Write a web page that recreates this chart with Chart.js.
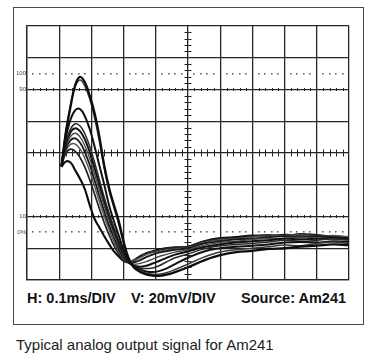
<!DOCTYPE html>
<html>
<head>
<meta charset="utf-8">
<script src="https://cdn.jsdelivr.net/npm/chart.js@4.4.0/dist/chart.umd.min.js"></script>
<style>
  html, body { margin: 0; padding: 0; background: #fff; }
  body { width: 377px; height: 360px; position: relative; overflow: hidden; font-family: "Liberation Sans", Arial, sans-serif; }
  .frame { position: absolute; left: 13px; top: 7px; width: 349px; height: 316px; border: 1px solid #4a4a4a; }
  #scope { position: absolute; left: 0; top: 0; }
  .settings span { position: absolute; top: 290px; font-weight: bold; font-size: 14.5px; color: #111; white-space: nowrap; }
  .caption { position: absolute; left: 16px; top: 336px; font-size: 15px; color: #222; white-space: nowrap; }
</style>
</head>
<body>
<div class="frame"></div>
<canvas id="scope" width="377" height="290"></canvas>
<div class="settings">
  <span style="left:27px">H: 0.1ms/DIV</span>
  <span style="left:131px">V: 20mV/DIV</span>
  <span style="left:241px">Source: Am241</span>
</div>
<div class="caption">Typical analog output signal for Am241</div>
<script>
// time in divisions (0.1 ms each), amplitude in divisions (20 mV each)
const timeDiv = [1.07, 1.2, 1.35, 1.5, 1.65, 1.8, 1.95, 2.1, 2.25, 2.4, 2.55, 2.7, 2.85, 3.0, 3.15, 3.3,
  3.5, 3.7, 3.9, 4.1, 4.3, 4.6, 5.0, 5.5, 6.0, 6.5, 7.0, 7.5, 8.0, 8.5, 9.0, 9.5, 10.0];

const pulseA = [3.56, 4.6, 5.45, 6.15, 6.4, 6.22, 5.8, 5.25, 4.5, 3.6, 2.9, 2.36, 1.85, 1.22, 0.7, 0.42,
  0.26, 0.18, 0.14, 0.13, 0.16, 0.25, 0.4, 0.62, 0.78, 0.88, 0.92, 0.98, 1.0, 1.05, 1.08, 1.12, 1.1];
const pulseB = [3.56, 4.65, 5.5, 6.1, 6.3, 6.1, 5.7, 5.1, 4.35, 3.5, 2.8, 2.28, 1.75, 1.15, 0.68, 0.43,
  0.3, 0.22, 0.18, 0.18, 0.22, 0.33, 0.5, 0.72, 0.88, 0.95, 1.0, 1.05, 1.1, 1.08, 1.15, 1.2, 1.15];
const pulseC = [3.6, 4.45, 5.05, 5.35, 5.38, 5.15, 4.75, 4.2, 3.6, 3.0, 2.35, 1.85, 1.4, 0.95, 0.62, 0.45,
  0.33, 0.27, 0.25, 0.28, 0.35, 0.5, 0.7, 0.9, 1.0, 1.05, 1.08, 1.12, 1.18, 1.2, 1.18, 1.22, 1.2];
const pulseD = [3.6, 4.3, 4.75, 4.92, 4.85, 4.6, 4.2, 3.7, 3.15, 2.6, 2.1, 1.65, 1.25, 0.85, 0.58, 0.45,
  0.38, 0.36, 0.38, 0.45, 0.55, 0.7, 0.82, 0.98, 1.08, 1.12, 1.15, 1.2, 1.25, 1.22, 1.25, 1.3, 1.25];
const pulseE = [3.6, 4.25, 4.65, 4.78, 4.68, 4.42, 4.02, 3.52, 3.0, 2.48, 2.0, 1.56, 1.17, 0.8, 0.56, 0.46,
  0.42, 0.45, 0.52, 0.6, 0.68, 0.8, 0.9, 1.04, 1.12, 1.18, 1.22, 1.25, 1.3, 1.28, 1.3, 1.32, 1.28];
const pulseF = [3.6, 4.2, 4.52, 4.62, 4.5, 4.22, 3.82, 3.33, 2.82, 2.32, 1.86, 1.45, 1.08, 0.74, 0.55, 0.5,
  0.52, 0.58, 0.66, 0.74, 0.8, 0.88, 0.95, 1.1, 1.18, 1.22, 1.28, 1.3, 1.32, 1.35, 1.32, 1.28, 1.3];
const pulseG = [3.6, 4.12, 4.4, 4.46, 4.32, 4.02, 3.62, 3.14, 2.64, 2.16, 1.72, 1.33, 0.98, 0.7, 0.55, 0.55,
  0.62, 0.72, 0.8, 0.86, 0.9, 0.95, 1.0, 1.15, 1.22, 1.28, 1.3, 1.35, 1.38, 1.35, 1.38, 1.35, 1.32];
const pulseH = [3.6, 4.05, 4.27, 4.28, 4.12, 3.82, 3.42, 2.95, 2.46, 2.0, 1.58, 1.2, 0.9, 0.66, 0.56, 0.6,
  0.7, 0.8, 0.86, 0.9, 0.94, 0.98, 1.02, 1.18, 1.26, 1.3, 1.35, 1.38, 1.4, 1.42, 1.38, 1.4, 1.35];
const pulseI = [3.6, 3.98, 4.12, 4.05, 3.85, 3.55, 3.15, 2.7, 2.24, 1.8, 1.42, 1.08, 0.82, 0.62, 0.56, 0.62,
  0.75, 0.85, 0.9, 0.95, 0.98, 1.02, 1.05, 1.2, 1.3, 1.32, 1.38, 1.42, 1.4, 1.45, 1.42, 1.38, 1.36];
const pulseJ = [3.56, 3.73, 3.7, 3.45, 3.18, 2.85, 2.35, 1.92, 1.65, 1.38, 1.13, 0.9, 0.74, 0.6, 0.55, 0.6,
  0.72, 0.82, 0.9, 0.96, 1.0, 1.03, 1.05, 1.22, 1.32, 1.35, 1.4, 1.38, 1.42, 1.4, 1.38, 1.36, 1.35];

const pulses = [pulseA, pulseB, pulseC, pulseD, pulseE, pulseF, pulseG, pulseH, pulseI, pulseJ];
const traceColors = ['#0d0d0d', '#3a3a3a', '#111111', '#2a2a2a', '#111111', '#4a4a4a', '#1a1a1a', '#555555', '#222222', '#0d0d0d'];
const traceWidths = [2.3, 1.5, 2.0, 1.5, 2.0, 1.4, 1.8, 1.4, 1.7, 2.1];

// dotted 100% and 0% reference levels, labelled graticule levels
const dottedLevels = [6.5, 1.5];
const levelLabels = { 6.5: '100', 6: '90', 2: '10', 1.5: '0%' };
const tickedLevels = [6, 2];

const gridColor = '#262626';

const graticule = {
  id: 'graticule',
  beforeDatasetsDraw(chart) {
    const { ctx, scales: { x, y } } = chart;
    ctx.save();
    ctx.strokeStyle = gridColor;
    ctx.lineWidth = 1;
    // minor ticks on the centre lines
    const cx = x.getPixelForValue(5);
    const cy = y.getPixelForValue(4);
    for (let i = 1; i < 40; i++) {
      if (i % 5 === 0) continue;
      const py = Math.round(y.getPixelForValue(i * 0.2)) + 0.5;
      ctx.beginPath(); ctx.moveTo(cx - 3.5, py); ctx.lineTo(cx + 3.5, py); ctx.stroke();
    }
    for (let i = 1; i < 50; i++) {
      if (i % 5 === 0) continue;
      const px = Math.round(x.getPixelForValue(i * 0.2)) + 0.5;
      ctx.beginPath(); ctx.moveTo(px, cy - 3.5); ctx.lineTo(px, cy + 3.5); ctx.stroke();
      tickedLevels.forEach((lv) => {
        const ly = y.getPixelForValue(lv);
        ctx.beginPath(); ctx.moveTo(px, ly - 1.5); ctx.lineTo(px, ly + 1.5); ctx.stroke();
      });
    }
    // dotted levels
    ctx.fillStyle = '#666';
    dottedLevels.forEach((lv) => {
      const ly = Math.round(y.getPixelForValue(lv));
      for (let i = 1; i < 50; i++) {
        if (i % 5 === 0) continue;
        ctx.fillRect(Math.round(x.getPixelForValue(i * 0.2)) - 1, ly - 1, 1.6, 1.6);
      }
    });
    ctx.restore();
  },
};

const datasets = pulses.map((vals, i) => ({
  data: vals.map((v, k) => ({ x: timeDiv[k], y: v })),
  borderColor: traceColors[i],
  borderWidth: traceWidths[i],
  pointRadius: 0,
  tension: 0.4,
  fill: false,
}));

new Chart(document.getElementById('scope'), {
  type: 'line',
  data: { datasets },
  options: {
    responsive: false,
    animation: false,
    events: [],
    layout: { padding: { top: 26, right: 28, bottom: 10, left: 17 } },
    plugins: { legend: { display: false }, tooltip: { enabled: false } },
    scales: {
      x: {
        type: 'linear',
        min: 0,
        max: 10,
        ticks: { display: false, stepSize: 1 },
        grid: { color: gridColor, lineWidth: 1.3, drawTicks: false },
        border: { color: gridColor, width: 1.3 },
        afterFit: (scale) => { scale.height = 0; },
      },
      y: {
        min: 0,
        max: 8,
        ticks: {
          stepSize: 0.5,
          autoSkip: false,
          padding: 1,
          color: '#444',
          font: { family: 'Liberation Sans', size: 6 },
          callback: (v) => levelLabels[v] || '',
        },
        grid: {
          color: (c) => (c.tick && c.tick.value % 1 === 0 ? gridColor : 'rgba(0,0,0,0)'),
          lineWidth: 1.3,
          drawTicks: false,
        },
        border: { color: gridColor, width: 1.3 },
        afterFit: (scale) => { scale.width = 10; },
      },
    },
  },
  plugins: [graticule],
});
</script>
</body>
</html>
